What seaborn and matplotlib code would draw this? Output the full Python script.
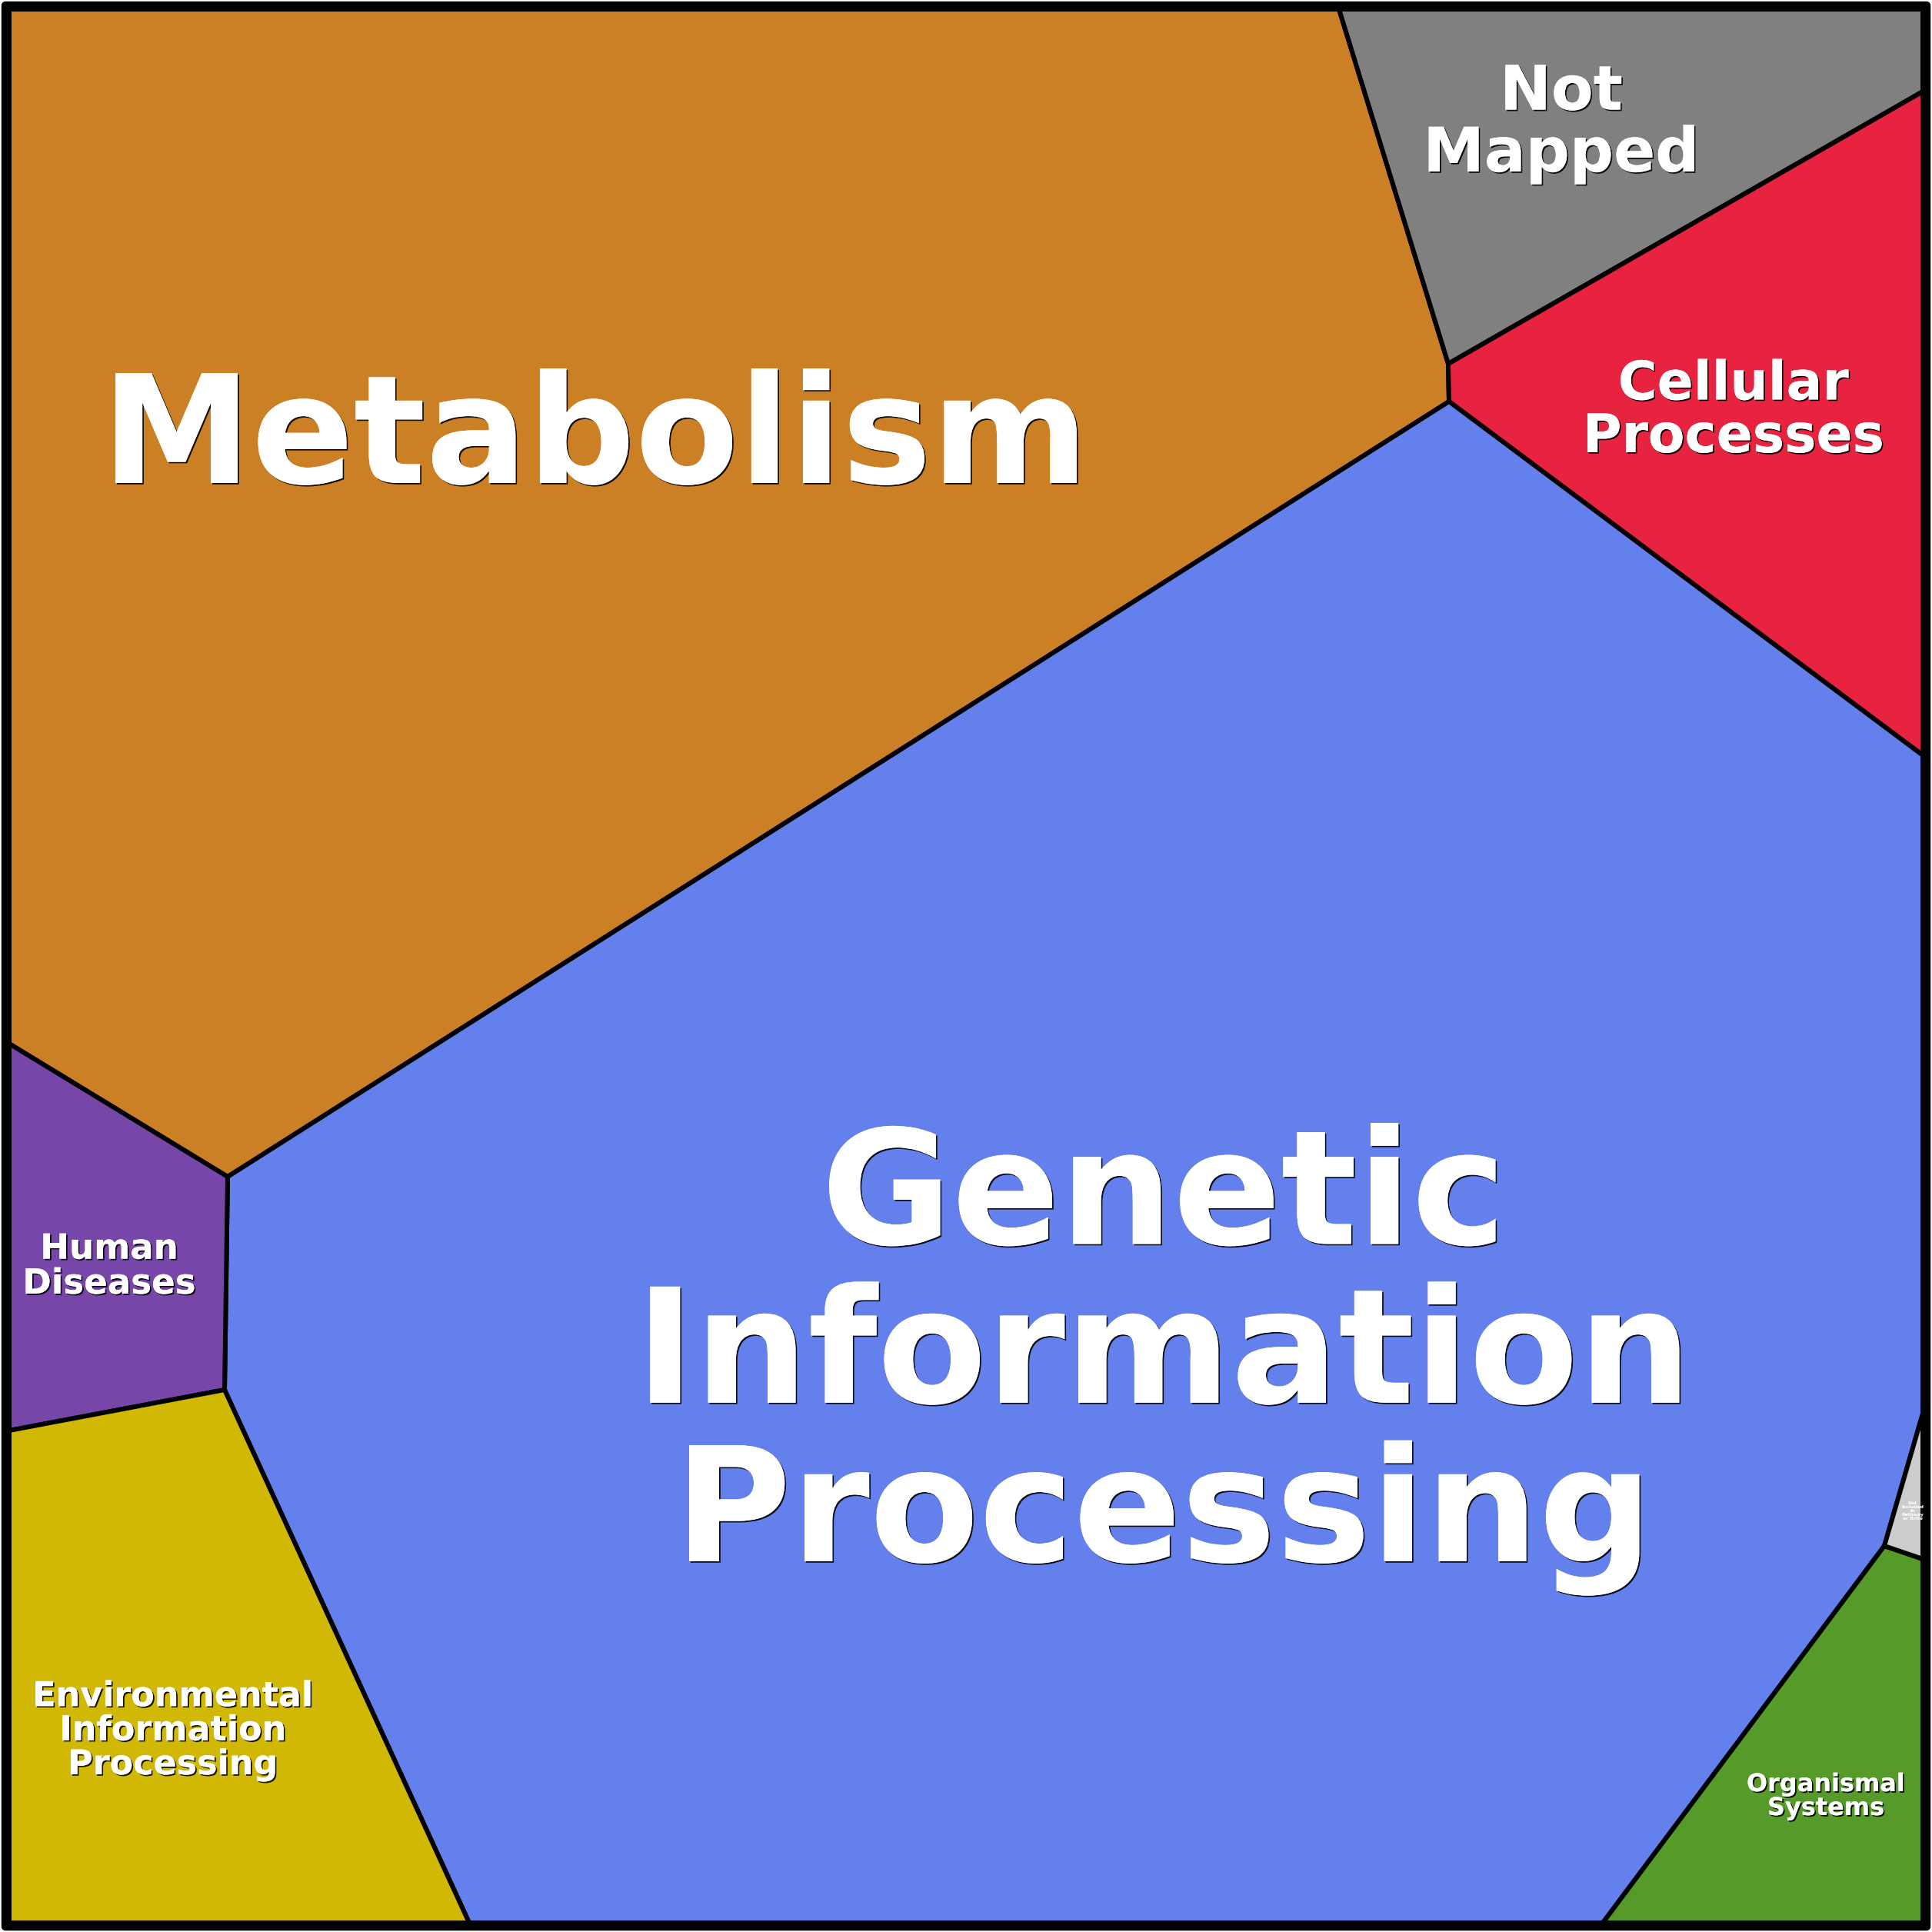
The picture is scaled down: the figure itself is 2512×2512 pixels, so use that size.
import matplotlib
matplotlib.use("Agg")
import matplotlib.pyplot as plt
import matplotlib.patheffects as pe
import seaborn as sns

# KEGG 功能分类的 Voronoi treemap（坐标为画布像素，y 轴向下）
categories = [
    "Metabolism",
    "Not Mapped",
    "Cellular Processes",
    "Genetic Information Processing",
    "Human Diseases",
    "Environmental Information Processing",
    "Organismal Systems",
    "Not Included in Pathway or Brite",
]

metabolism_x = [12, 1741, 1883, 1884, 296, 12]
metabolism_y = [12, 12, 473, 522, 1530, 1357]

not_mapped_x = [1741, 2500, 2500, 1883]
not_mapped_y = [12, 12, 119, 473]

cellular_x = [1883, 2500, 2500, 1884]
cellular_y = [473, 119, 982, 522]

genetic_x = [1884, 2500, 2500, 2450, 2084, 610, 292, 296]
genetic_y = [522, 982, 1838, 2010, 2500, 2500, 1807, 1530]

human_x = [12, 296, 292, 12]
human_y = [1357, 1530, 1807, 1860]

environmental_x = [12, 292, 610, 12]
environmental_y = [1860, 1807, 2500, 2500]

organismal_x = [2450, 2500, 2500, 2084]
organismal_y = [2010, 2027, 2500, 2500]

not_included_x = [2500, 2500, 2450]
not_included_y = [1838, 2027, 2010]

cell_x = [metabolism_x, not_mapped_x, cellular_x, genetic_x,
          human_x, environmental_x, organismal_x, not_included_x]
cell_y = [metabolism_y, not_mapped_y, cellular_y, genetic_y,
          human_y, environmental_y, organismal_y, not_included_y]

labels = [
    "Metabolism",
    "Not\nMapped",
    "Cellular\nProcesses",
    "Genetic\nInformation\nProcessing",
    "Human\nDiseases",
    "Environmental\nInformation\nProcessing",
    "Organismal\nSystems",
    "Not\nIncluded\nin\nPathway\nor Brite",
]

# 样式与标签位置（末行基线）
colors = ["#CC8026", "#808080", "#E72340", "#6380EC",
          "#7646A8", "#D0B805", "#569A29", "#CCCCCC"]
label_x = [774, 2030, 2254, 1513, 142, 225, 2374, 2487]
label_y = [628, 223, 588, 2030, 1682, 2307, 2360, 1976]
label_size = [141, 57.5, 50, 149, 32.5, 32, 23, 4.3]
label_spacing = [1.0, 1.04, 1.03, 1.04, 1.07, 1.04, 1.0, 1.0]

sns.set_theme(style="white")
plt.rcParams['font.family'] = ['DejaVu Sans']

W = 2512
fig = plt.figure(figsize=(W / 100, W / 100), dpi=100)
ax = fig.add_axes([0, 0, 1, 1])
ax.set_xlim(0, W)
ax.set_ylim(W, 0)
ax.axis('off')

for xs, ys, c in zip(cell_x, cell_y, colors):
    ax.fill(xs, ys, facecolor=c, edgecolor='black', linewidth=4.3,
            joinstyle='miter')

shadow = [pe.withSimplePatchShadow(offset=(1.3, -1.3), shadow_rgbFace='black', alpha=0.9),
          pe.Normal()]
for i, text in enumerate(labels):
    t = ax.text(label_x[i], label_y[i], text, ha='center', va='baseline',
                multialignment='center', color='white', fontweight='bold',
                fontsize=label_size[i], linespacing=label_spacing[i],
                path_effects=shadow if label_size[i] > 10 else None)
    t.set_clip_on(True)

# 外框
ax.add_patch(plt.Rectangle((7, 7), W - 14, W - 14, fill=False,
                           edgecolor='black', linewidth=7.5, joinstyle='round'))

fig.savefig("out.png", dpi=100, facecolor='white')
